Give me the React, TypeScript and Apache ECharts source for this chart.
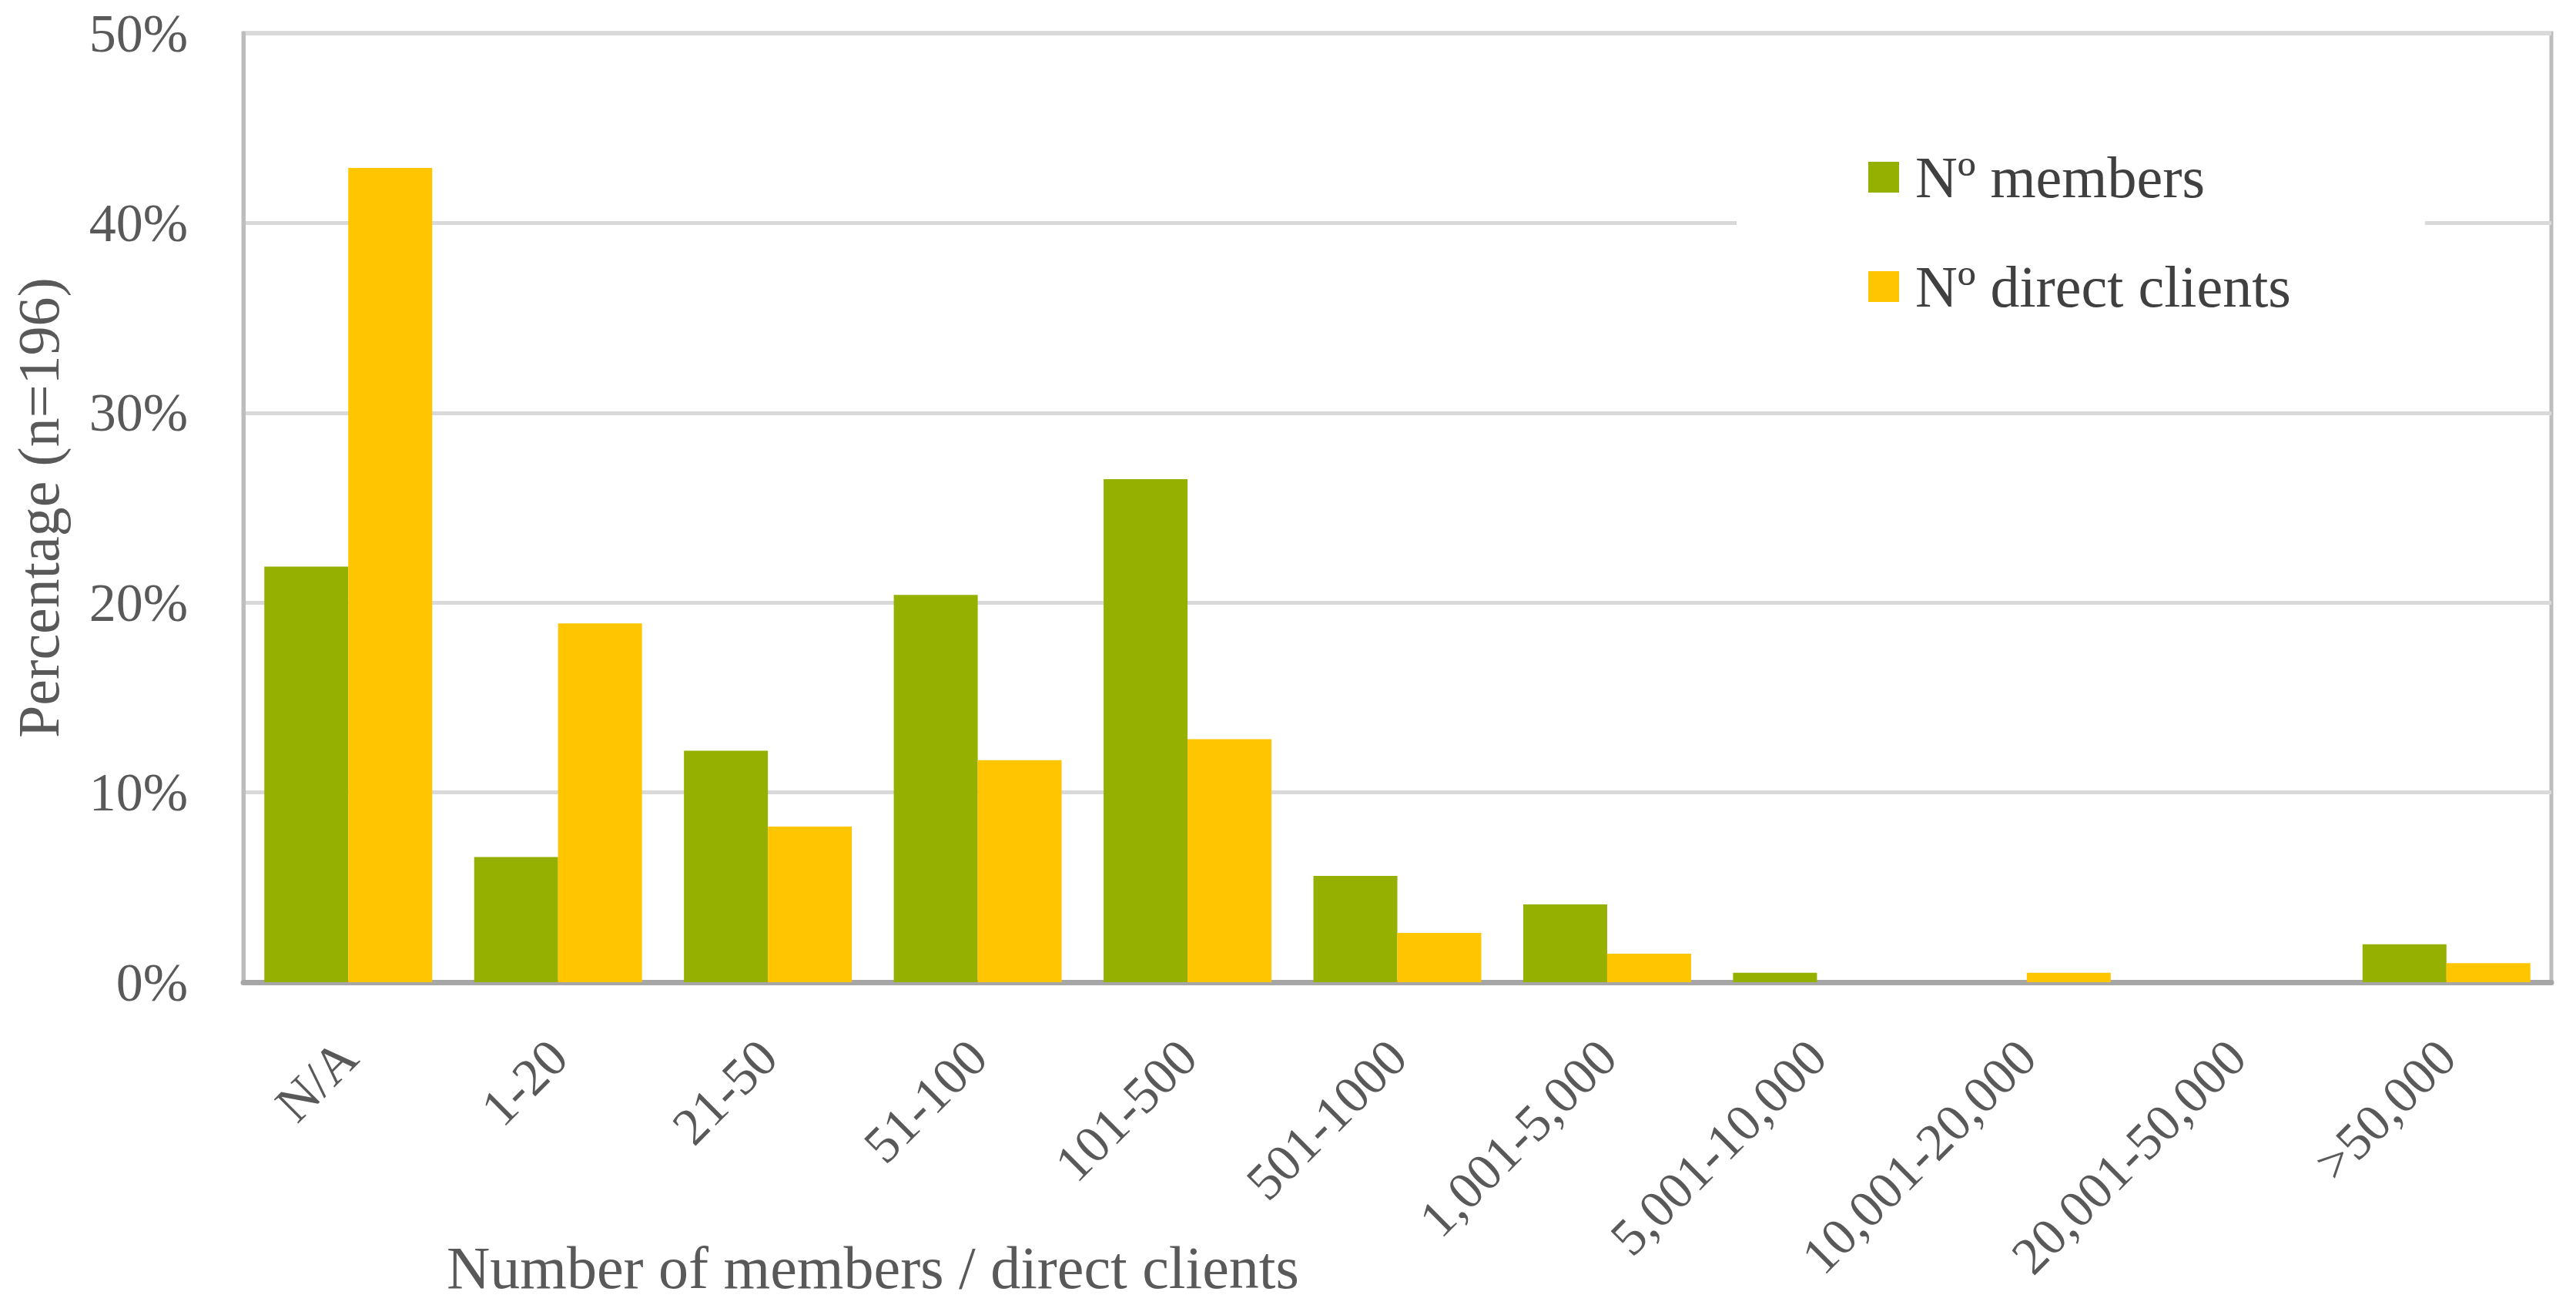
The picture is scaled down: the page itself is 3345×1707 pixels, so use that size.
import React, { useEffect, useRef } from "react";
import * as echarts from "echarts";

const categories = [
  "N/A",
  "1-20",
  "21-50",
  "51-100",
  "101-500",
  "501-1000",
  "1,001-5,000",
  "5,001-10,000",
  "10,001-20,000",
  "20,001-50,000",
  ">50,000",
];
const members = [21.9, 6.6, 12.2, 20.4, 26.5, 5.6, 4.1, 0.5, 0, 0, 2.0];
const directClients = [42.9, 18.9, 8.2, 11.7, 12.8, 2.6, 1.5, 0, 0.5, 0, 1.0];
const seriesNames = ["Nº members", "Nº direct clients"];
const yTicks = { min: 0, max: 50, interval: 10 };

const FONT = "'Liberation Serif', 'Times New Roman', serif";
const TEXT = "#595959";

export default function App() {
  const ref = useRef<HTMLDivElement>(null);
  useEffect(() => {
    if (!ref.current) return;
    const chart = echarts.init(ref.current, null, { renderer: "svg" });
    chart.setOption({
      animation: false,
      backgroundColor: "#ffffff",
      grid: {
        left: 316,
        right: 32,
        top: 43,
        bottom: 432,
        show: true,
        borderColor: "#bdbdbd",
        borderWidth: 5,
        backgroundColor: "transparent",
      },
      legend: {
        orient: "vertical",
        left: 2255,
        top: 172,
        padding: [20, 174, 20, 171],
        backgroundColor: "#ffffff",
        icon: "rect",
        itemWidth: 40,
        itemHeight: 40,
        itemGap: 66,
        data: seriesNames,
        textStyle: {
          fontFamily: FONT,
          fontSize: 76,
          color: "#404040",
          padding: [0, 0, 0, 16],
        },
      },
      xAxis: {
        type: "category",
        data: categories,
        axisTick: { show: false },
        axisLine: { show: true, lineStyle: { color: "#a6a6a6", width: 7 } },
        axisLabel: {
          interval: 0,
          rotate: 45,
          margin: 86,
          fontFamily: FONT,
          fontSize: 68,
          color: TEXT,
        },
        splitLine: { show: false },
      },
      yAxis: {
        type: "value",
        min: yTicks.min,
        max: yTicks.max,
        interval: yTicks.interval,
        name: "Percentage (n=196)",
        nameLocation: "middle",
        nameGap: 228,
        nameTextStyle: { fontFamily: FONT, fontSize: 76, color: TEXT },
        axisLine: { show: true, lineStyle: { color: "#bdbdbd", width: 5 } },
        axisTick: { show: false },
        axisLabel: {
          formatter: "{value}%",
          margin: 72,
          fontFamily: FONT,
          fontSize: 70,
          color: TEXT,
        },
        splitLine: { show: true, lineStyle: { color: "#d9d9d9", width: 5 } },
      },
      graphic: [
        {
          type: "text",
          left: 580,
          top: 1606,
          style: {
            text: "Number of members / direct clients",
            fontFamily: FONT,
            fontSize: 78,
            fill: TEXT,
          },
        },
      ],
      series: [
        {
          name: seriesNames[0],
          type: "bar",
          data: members,
          barGap: "0%",
          barCategoryGap: "20%",
          itemStyle: { color: "#95B000" },
        },
        {
          name: seriesNames[1],
          type: "bar",
          data: directClients,
          barGap: "0%",
          barCategoryGap: "20%",
          itemStyle: { color: "#FFC600" },
        },
      ],
    });
    return () => chart.dispose();
  }, []);
  return (
    <div
      ref={ref}
      style={{ position: "fixed", left: 0, top: 0, width: 3345, height: 1707 }}
    />
  );
}
